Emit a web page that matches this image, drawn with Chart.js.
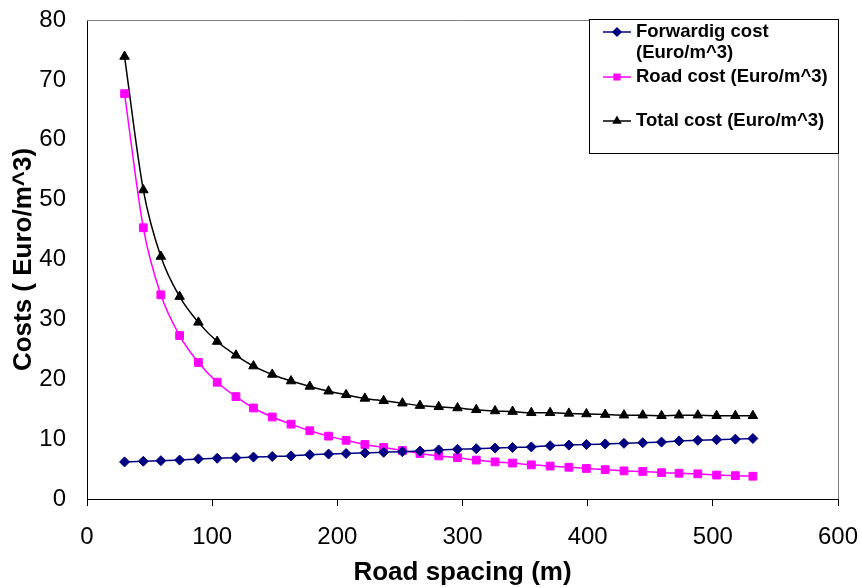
<!DOCTYPE html>
<html>
<head>
<meta charset="utf-8">
<script src="https://cdn.jsdelivr.net/npm/chart.js@4"></script>
<style>
  html, body { margin: 0; padding: 0; background: #fff; }
  #wrap { width: 862px; height: 588px; }
</style>
</head>
<body>
<div id="wrap"><canvas id="myChart" width="862" height="588"></canvas></div>
<script>
// road spacing (m)
const spacing = [30, 45, 59, 74, 89, 104, 119, 133, 148, 163, 178, 193, 207, 222, 237, 252,
  266, 281, 296, 311, 326, 340, 355, 370, 385, 399, 414, 429, 444, 459, 473, 488, 503, 518, 532];
const forwardCost = [6.2, 6.3, 6.4, 6.5, 6.7, 6.8, 6.9, 7.0, 7.1, 7.2, 7.4, 7.5, 7.6, 7.7, 7.8, 7.9,
  8.0, 8.2, 8.3, 8.4, 8.5, 8.6, 8.7, 8.9, 9.0, 9.1, 9.2, 9.3, 9.4, 9.5, 9.7, 9.8, 9.9, 10.0, 10.1];
const roadCost = [67.7, 45.3, 34.1, 27.3, 22.8, 19.5, 17.1, 15.2, 13.7, 12.5, 11.4, 10.5, 9.8, 9.1, 8.6, 8.1,
  7.6, 7.2, 6.9, 6.5, 6.2, 6.0, 5.7, 5.5, 5.3, 5.1, 4.9, 4.7, 4.6, 4.4, 4.3, 4.2, 4.0, 3.9, 3.8];
const totalCost = [73.9, 51.6, 40.5, 33.8, 29.5, 26.3, 24.0, 22.2, 20.8, 19.7, 18.8, 18.0, 17.4, 16.8, 16.4, 16.0,
  15.6, 15.4, 15.2, 14.9, 14.7, 14.6, 14.4, 14.4, 14.3, 14.2, 14.1, 14.0, 14.0, 13.9, 14.0, 14.0, 13.9, 13.9, 13.9];
const xTicks = [0, 100, 200, 300, 400, 500, 600];

const seriesNames = [['Forwardig cost', '(Euro/m^3)'], ['Road cost (Euro/m^3)'], ['Total cost (Euro/m^3)']];

function pts(ys) {
  return spacing.map((x, i) => ({ x: x, y: ys[i] }));
}

const FONT = "'Liberation Sans', Arial, sans-serif";

// gray plot border on top and right
const plotBorder = {
  id: 'plotBorder',
  beforeDatasetsDraw(chart) {
    const { ctx, chartArea: a } = chart;
    ctx.save();
    ctx.strokeStyle = '#808080';
    ctx.lineWidth = 1;
    ctx.beginPath();
    ctx.moveTo(a.left, a.top + 0.5);
    ctx.lineTo(a.right + 0.5, a.top + 0.5);
    ctx.lineTo(a.right + 0.5, a.bottom);
    ctx.stroke();
    ctx.restore();
  }
};

// excel style legend box
const boxLegend = {
  id: 'boxLegend',
  afterDraw(chart) {
    const { ctx } = chart;
    const bx = 589, by = 19, bw = 249, bh = 134;
    ctx.save();
    ctx.fillStyle = '#fff';
    ctx.fillRect(bx, by, bw, bh);
    ctx.strokeStyle = '#000';
    ctx.lineWidth = 1;
    ctx.strokeRect(bx + 0.5, by + 0.5, bw, bh);
    const rows = [32, 77, 121];
    ctx.font = 'bold 18.5px ' + FONT;
    ctx.textBaseline = 'middle';
    chart.data.datasets.forEach((ds, i) => {
      const y = rows[i];
      ctx.strokeStyle = ds.borderColor;
      ctx.lineWidth = 1.5;
      ctx.beginPath();
      ctx.moveTo(603, y);
      ctx.lineTo(631, y);
      ctx.stroke();
      Chart.helpers.drawPoint(ctx, {
        pointStyle: ds.pointStyle, radius: 4, rotation: 0,
        borderWidth: 1
      }, 617, y);
      ctx.fillStyle = ds.pointBackgroundColor;
      ctx.strokeStyle = ds.pointBorderColor;
      ctx.fill();
      ctx.fillStyle = '#000';
      seriesNames[i].forEach((t, k) => ctx.fillText(t, 636, y + k * 21));
    });
    ctx.restore();
  }
};

function ds(label, data, color, style, r) {
  return {
    label: label,
    data: pts(data),
    borderColor: color,
    backgroundColor: color,
    pointBackgroundColor: color,
    pointBorderColor: color,
    pointStyle: style,
    pointRadius: r,
    pointBorderWidth: 1,
    borderWidth: 1.5,
    cubicInterpolationMode: 'monotone',
    fill: false
  };
}

const ctx = document.getElementById('myChart');
const costChart = new Chart(ctx, {
  type: 'line',
  data: {
    datasets: [
      ds('Forwardig cost (Euro/m^3)', forwardCost, '#000080', 'rectRot', 5),
      ds('Road cost (Euro/m^3)', roadCost, '#FF00FF', 'rect', 5.5),
      ds('Total cost (Euro/m^3)', totalCost, '#000000', 'triangle', 5.5)
    ]
  },
  options: {
    responsive: false,
    animation: false,
    layout: { autoPadding: false, padding: { top: 20, right: 24, left: 0, bottom: 0 } },
    plugins: { legend: { display: false }, tooltip: { enabled: false } },
    scales: {
      x: {
        type: 'linear',
        min: 0, max: 600,
        afterBuildTicks: s => { s.ticks = xTicks.map(v => ({ value: v })); },
        afterFit: s => { s.height = 89; s.paddingLeft = 0; s.paddingRight = 0; },
        grid: { display: true, drawOnChartArea: false, drawTicks: true, tickLength: 7, color: '#000' },
        border: { display: true, color: '#000', width: 1 },
        ticks: { color: '#000', font: { family: FONT, size: 24 }, padding: 17, maxRotation: 0 },
        title: {
          display: true, text: 'Road spacing (m)', color: '#000',
          font: { family: FONT, size: 26, weight: 'bold', lineHeight: 1.2 },
          padding: { top: 0, bottom: 0 }
        }
      },
      y: {
        min: 0, max: 80,
        afterFit: s => { s.width = 87; s.paddingTop = 0; s.paddingBottom = 0; },
        grid: { display: false, drawTicks: false },
        border: { display: true, color: '#000', width: 1 },
        ticks: { stepSize: 10, color: '#000', font: { family: FONT, size: 24 }, padding: 21 },
        title: {
          display: true, text: 'Costs ( Euro/m^3)', color: '#000',
          font: { family: FONT, size: 26, weight: 'bold', lineHeight: 1.2 },
          padding: { top: 8, bottom: 0 }
        }
      }
    }
  },
  plugins: [plotBorder, boxLegend]
});
</script>
</body>
</html>
